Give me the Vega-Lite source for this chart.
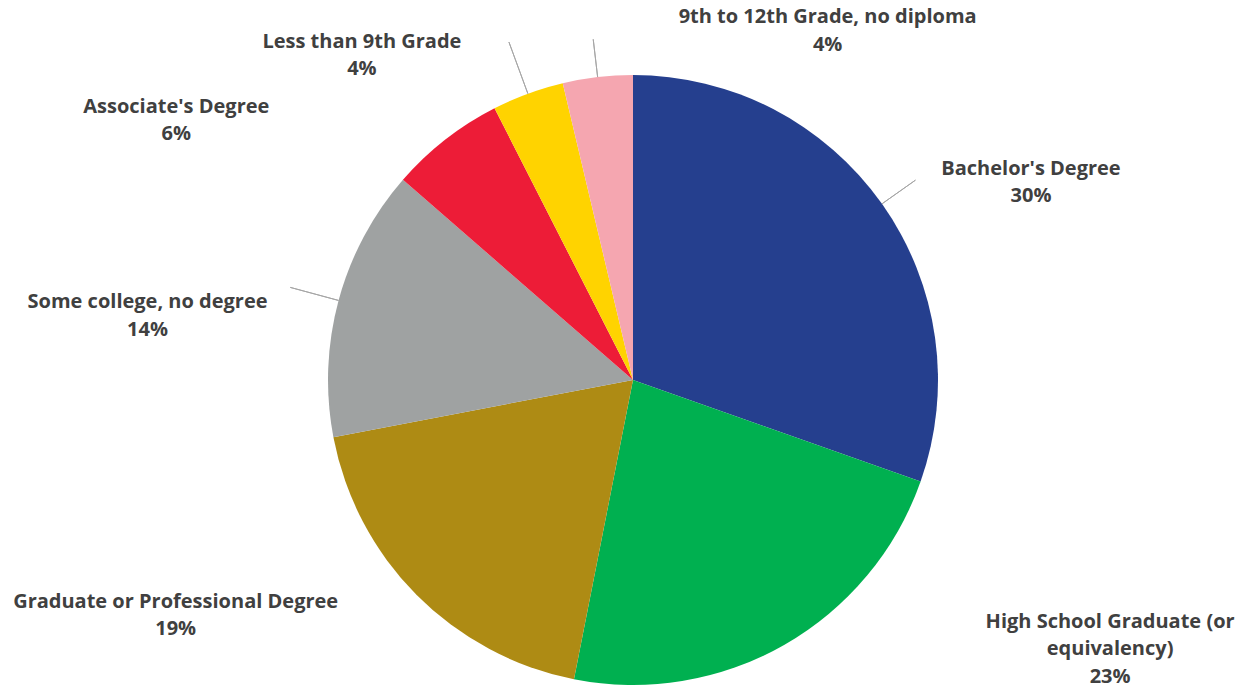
{
  "$schema": "https://vega.github.io/schema/vega-lite/v6.json",
  "width": 1214,
  "height": 622,
  "autosize": {"type": "none"},
  "padding": {"left": 26, "top": 69, "right": 0, "bottom": 0},
  "background": "white",
  "view": {"stroke": null},
  "data": {
    "values": [
      {"category": "Bachelor's Degree", "value": 30.4, "label": "Bachelor's Degree\n30%"},
      {"category": "High School Graduate (or equivalency)", "value": 22.7, "label": "High School Graduate (or\nequivalency)\n23%"},
      {"category": "Graduate or Professional Degree", "value": 18.9, "label": "Graduate or Professional Degree\n19%"},
      {"category": "Some college, no degree", "value": 14.4, "label": "Some college, no degree\n14%"},
      {"category": "Associate's Degree", "value": 6.1, "label": "Associate's Degree\n6%"},
      {"category": "Less than 9th Grade", "value": 3.8, "label": "Less than 9th Grade\n4%"},
      {"category": "9th to 12th Grade, no diploma", "value": 3.7, "label": "9th to 12th Grade, no diploma\n4%"}
    ]
  },
  "encoding": {
    "theta": {"field": "value", "type": "quantitative", "stack": true},
    "order": {"field": "value", "type": "quantitative", "sort": "descending"},
    "detail": {"field": "category", "type": "nominal"}
  },
  "layer": [
    {
      "mark": {"type": "arc", "outerRadius": 305},
      "encoding": {
        "color": {
          "field": "category",
          "type": "nominal",
          "legend": null,
          "scale": {
            "domain": ["Bachelor's Degree", "High School Graduate (or equivalency)", "Graduate or Professional Degree", "Some college, no degree", "Associate's Degree", "Less than 9th Grade", "9th to 12th Grade, no diploma"],
            "range": ["#253F8E", "#00B050", "#AE8B14", "#9FA2A2", "#ED1C37", "#FFD300", "#F5A6B0"]
          }
        }
      }
    },
    {
      "mark": {"type": "arc", "innerRadius": 305, "outerRadius": 346, "padAngle": 3, "filled": false, "stroke": "#A6A6A6", "strokeWidth": 1},
      "encoding": {"strokeOpacity": {"condition": {"test": "datum.category === \"Bachelor's Degree\"", "value": 1}, "value": 0}}
    },
    {
      "mark": {"type": "arc", "innerRadius": 305, "outerRadius": 343, "padAngle": 3, "filled": false, "stroke": "#A6A6A6", "strokeWidth": 1},
      "encoding": {"strokeOpacity": {"condition": {"test": "datum.category === '9th to 12th Grade, no diploma'", "value": 1}, "value": 0}}
    },
    {
      "mark": {"type": "arc", "innerRadius": 305, "outerRadius": 355, "padAngle": 3, "filled": false, "stroke": "#A6A6A6", "strokeWidth": 1},
      "encoding": {"strokeOpacity": {"condition": {"test": "datum.category === 'Some college, no degree'", "value": 1}, "value": 0}}
    },
    {
      "mark": {"type": "arc", "innerRadius": 305, "outerRadius": 360, "padAngle": 3, "filled": false, "stroke": "#A6A6A6", "strokeWidth": 1},
      "encoding": {"strokeOpacity": {"condition": {"test": "datum.category === 'Less than 9th Grade'", "value": 1}, "value": 0}}
    },
    {
      "mark": {"type": "text", "radius": 305, "dx": 149, "dy": -35, "align": "center", "baseline": "middle", "font": "Open Sans", "fontWeight": "bold", "fontSize": 20, "lineHeight": 27.5, "lineBreak": "\n", "color": "#404040"},
      "encoding": {"text": {"condition": {"test": "datum.category === \"Bachelor's Degree\"", "field": "label", "type": "nominal"}, "value": ""}}
    },
    {
      "mark": {"type": "text", "radius": 305, "dx": 326, "dy": -23, "align": "center", "baseline": "middle", "font": "Open Sans", "fontWeight": "bold", "fontSize": 20, "lineHeight": 27.5, "lineBreak": "\n", "color": "#404040"},
      "encoding": {"text": {"condition": {"test": "datum.category === 'High School Graduate (or equivalency)'", "field": "label", "type": "nominal"}, "value": ""}}
    },
    {
      "mark": {"type": "text", "radius": 305, "dx": -241, "dy": 7, "align": "center", "baseline": "middle", "font": "Open Sans", "fontWeight": "bold", "fontSize": 20, "lineHeight": 27.5, "lineBreak": "\n", "color": "#404040"},
      "encoding": {"text": {"condition": {"test": "datum.category === 'Graduate or Professional Degree'", "field": "label", "type": "nominal"}, "value": ""}}
    },
    {
      "mark": {"type": "text", "radius": 305, "dx": -191, "dy": 2, "align": "center", "baseline": "middle", "font": "Open Sans", "fontWeight": "bold", "fontSize": 20, "lineHeight": 27.5, "lineBreak": "\n", "color": "#404040"},
      "encoding": {"text": {"condition": {"test": "datum.category === 'Some college, no degree'", "field": "label", "type": "nominal"}, "value": ""}}
    },
    {
      "mark": {"type": "text", "radius": 305, "dx": -269, "dy": -33, "align": "center", "baseline": "middle", "font": "Open Sans", "fontWeight": "bold", "fontSize": 20, "lineHeight": 27.5, "lineBreak": "\n", "color": "#404040"},
      "encoding": {"text": {"condition": {"test": "datum.category === \"Associate's Degree\"", "field": "label", "type": "nominal"}, "value": ""}}
    },
    {
      "mark": {"type": "text", "radius": 305, "dx": -166, "dy": -52, "align": "center", "baseline": "middle", "font": "Open Sans", "fontWeight": "bold", "fontSize": 20, "lineHeight": 27.5, "lineBreak": "\n", "color": "#404040"},
      "encoding": {"text": {"condition": {"test": "datum.category === 'Less than 9th Grade'", "field": "label", "type": "nominal"}, "value": ""}}
    },
    {
      "mark": {"type": "text", "radius": 305, "dx": 230, "dy": -60, "align": "center", "baseline": "middle", "font": "Open Sans", "fontWeight": "bold", "fontSize": 20, "lineHeight": 27.5, "lineBreak": "\n", "color": "#404040"},
      "encoding": {"text": {"condition": {"test": "datum.category === '9th to 12th Grade, no diploma'", "field": "label", "type": "nominal"}, "value": ""}}
    }
  ]
}
